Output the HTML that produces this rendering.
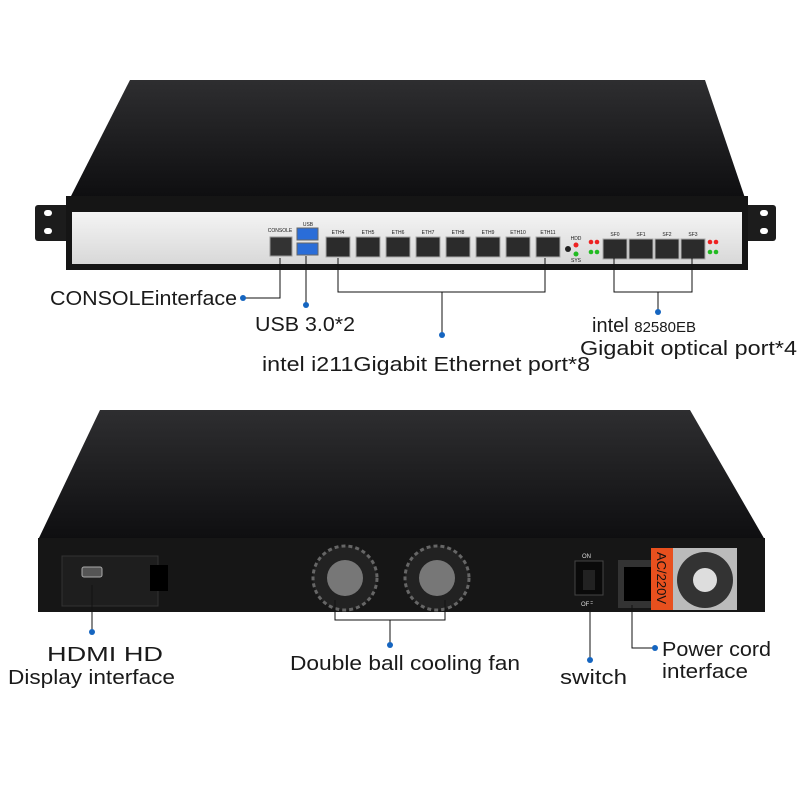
<!DOCTYPE html><html><head><style>body{margin:0;background:#fff}svg{display:block}text{font-family:"Liberation Sans",sans-serif;fill:#1a1a1a}</style></head><body>
<svg width="800" height="800" viewBox="0 0 800 800" xmlns="http://www.w3.org/2000/svg">
<defs>
<linearGradient id="tp" x1="0" y1="0" x2="0" y2="1"><stop offset="0" stop-color="#2e2e30"/><stop offset="1" stop-color="#0e0e10"/></linearGradient>
<linearGradient id="gp" x1="0" y1="0" x2="0" y2="1"><stop offset="0" stop-color="#f4f4f4"/><stop offset="1" stop-color="#d8d8d8"/></linearGradient>
</defs>
<polygon points="130,80 705,80 745,198 70,198" fill="url(#tp)"/>
<rect x="35" y="205" width="36" height="36" rx="3" fill="#1c1c1c"/><rect x="744" y="205" width="32" height="36" rx="3" fill="#1c1c1c"/>
<rect x="44" y="210" width="8" height="6" rx="3" fill="#fff"/><rect x="44" y="228" width="8" height="6" rx="3" fill="#fff"/>
<rect x="760" y="210" width="8" height="6" rx="3" fill="#fff"/><rect x="760" y="228" width="8" height="6" rx="3" fill="#fff"/>
<rect x="66" y="196" width="682" height="74" fill="#151515"/>
<rect x="72" y="212" width="670" height="52" fill="url(#gp)"/>
<g font-size="5" text-anchor="middle"><text x="280" y="232">CONSOLE</text><text x="308" y="226">USB</text>
<text x="338" y="234">ETH4</text><text x="368" y="234">ETH5</text><text x="398" y="234">ETH6</text><text x="428" y="234">ETH7</text><text x="458" y="234">ETH8</text><text x="488" y="234">ETH9</text><text x="518" y="234">ETH10</text><text x="548" y="234">ETH11</text>
<text x="615" y="236">SF0</text><text x="641" y="236">SF1</text><text x="667" y="236">SF2</text><text x="693" y="236">SF3</text><text x="576" y="240">HDD</text><text x="576" y="262">SYS</text></g>
<rect x="270" y="237" width="22" height="19" fill="#333" stroke="#999"/>
<rect x="297" y="228" width="21" height="12" fill="#2a6dd8" stroke="#666"/><rect x="297" y="243" width="21" height="12" fill="#2a6dd8" stroke="#666"/>
<g fill="#2b2b2b" stroke="#aaa"><rect x="326" y="237" width="24" height="20"/><rect x="356" y="237" width="24" height="20"/><rect x="386" y="237" width="24" height="20"/><rect x="416" y="237" width="24" height="20"/><rect x="446" y="237" width="24" height="20"/><rect x="476" y="237" width="24" height="20"/><rect x="506" y="237" width="24" height="20"/><rect x="536" y="237" width="24" height="20"/>
<rect x="603" y="239" width="24" height="20"/><rect x="629" y="239" width="24" height="20"/><rect x="655" y="239" width="24" height="20"/><rect x="681" y="239" width="24" height="20"/></g>
<circle cx="568" cy="249" r="3" fill="#222"/><circle cx="576" cy="245" r="2.5" fill="#e22"/><circle cx="576" cy="254" r="2.5" fill="#2b2"/>
<circle cx="591" cy="242" r="2.3" fill="#e22"/><circle cx="597" cy="242" r="2.3" fill="#e22"/><circle cx="591" cy="252" r="2.3" fill="#2b2"/><circle cx="597" cy="252" r="2.3" fill="#2b2"/>
<circle cx="710" cy="242" r="2.3" fill="#e22"/><circle cx="716" cy="242" r="2.3" fill="#e22"/><circle cx="710" cy="252" r="2.3" fill="#2b2"/><circle cx="716" cy="252" r="2.3" fill="#2b2"/>
<g stroke="#111" stroke-width="1" fill="none">
<polyline points="280,258 280,298 243,298"/><line x1="306" y1="256" x2="306" y2="305"/>
<polyline points="338,258 338,292 545,292 545,258"/><line x1="442" y1="292" x2="442" y2="335"/>
<polyline points="614,258 614,292 692,292 692,258"/><line x1="658" y1="292" x2="658" y2="312"/>
</g>
<g fill="#1565c0"><circle cx="243" cy="298" r="3"/><circle cx="306" cy="305" r="3"/><circle cx="442" cy="335" r="3"/><circle cx="658" cy="312" r="3"/></g>
<g font-size="20" lengthAdjust="spacingAndGlyphs">
<text x="50" y="305" textLength="187" lengthAdjust="spacingAndGlyphs">CONSOLEinterface</text>
<text x="255" y="331" textLength="100" lengthAdjust="spacingAndGlyphs">USB 3.0*2</text>
<text x="262" y="371" textLength="328" lengthAdjust="spacingAndGlyphs">intel i211Gigabit Ethernet port*8</text>
<text x="592" y="332">intel <tspan font-size="15">82580EB</tspan></text>
<text x="580" y="355" textLength="217" lengthAdjust="spacingAndGlyphs">Gigabit optical port*4</text>
</g>
<polygon points="100,410 690,410 765,540 38,540" fill="url(#tp)"/>
<rect x="38" y="538" width="727" height="74" fill="#161616"/>
<rect x="62" y="556" width="96" height="50" fill="#1e1e1e" stroke="#333"/>
<rect x="82" y="567" width="20" height="10" rx="2" fill="#555" stroke="#aaa"/>
<rect x="150" y="565" width="18" height="26" fill="#000"/>
<g fill="#222" stroke="#666" stroke-width="3" stroke-dasharray="4 3"><circle cx="345" cy="578" r="32"/><circle cx="437" cy="578" r="32"/></g>
<circle cx="345" cy="578" r="18" fill="#777"/><circle cx="437" cy="578" r="18" fill="#777"/>
<rect x="575" y="561" width="28" height="34" fill="#0a0a0a" stroke="#444"/><rect x="583" y="570" width="12" height="20" fill="#222"/>
<text x="582" y="558" font-size="6" style="fill:#ddd">ON</text><text x="581" y="606" font-size="6" style="fill:#ddd">OFF</text>
<rect x="618" y="560" width="42" height="48" fill="#333"/><rect x="624" y="567" width="30" height="34" fill="#000"/>
<rect x="651" y="548" width="22" height="62" fill="#e8501e"/>
<text x="0" y="0" font-size="13" transform="translate(657,552) rotate(90)" style="fill:#111">AC/220V</text>
<rect x="673" y="548" width="64" height="62" fill="#bbb"/><circle cx="705" cy="580" r="28" fill="#333"/><circle cx="705" cy="580" r="12" fill="#ddd"/>
<g stroke="#111" stroke-width="1" fill="none">
<line x1="92" y1="585" x2="92" y2="632"/>
<polyline points="335,600 335,620 445,620 445,600"/><line x1="390" y1="620" x2="390" y2="645"/>
<line x1="590" y1="600" x2="590" y2="660"/>
<polyline points="632,605 632,648 655,648"/>
</g>
<g fill="#1565c0"><circle cx="92" cy="632" r="3"/><circle cx="390" cy="645" r="3"/><circle cx="590" cy="660" r="3"/><circle cx="655" cy="648" r="3"/></g>
<g font-size="20">
<text x="47" y="661" textLength="116" lengthAdjust="spacingAndGlyphs">HDMI HD</text>
<text x="8" y="684" textLength="167" lengthAdjust="spacingAndGlyphs">Display interface</text>
<text x="290" y="670" textLength="230" lengthAdjust="spacingAndGlyphs">Double ball cooling fan</text>
<text x="560" y="684" textLength="67" lengthAdjust="spacingAndGlyphs">switch</text>
<text x="662" y="656" textLength="109" lengthAdjust="spacingAndGlyphs">Power cord</text>
<text x="662" y="678" textLength="86" lengthAdjust="spacingAndGlyphs">interface</text>
</g>
</svg></body></html>
